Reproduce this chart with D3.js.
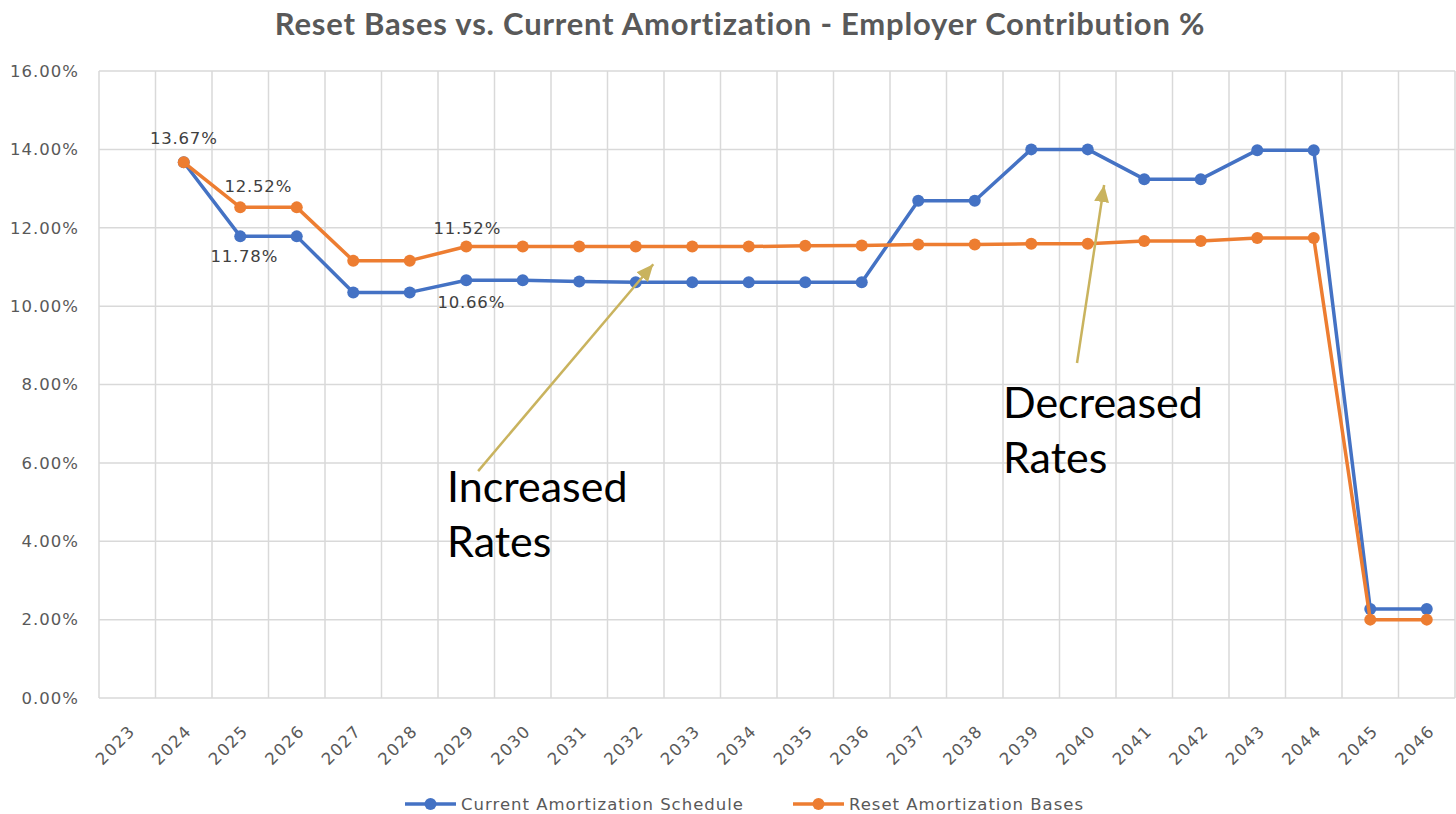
<html>
<head>
<script src="https://d3js.org/d3.v7.min.js"></script>
<style>
  body { margin: 0; background: #fff; }
  svg { display: block; }
</style>
</head>
<body>
<svg id="chart" width="1456" height="814"></svg>
<script>
// chart data
var years = ["2023","2024","2025","2026","2027","2028","2029","2030","2031","2032","2033","2034",
             "2035","2036","2037","2038","2039","2040","2041","2042","2043","2044","2045","2046"];
var currentSchedule = [null, 13.67, 11.78, 11.78, 10.35, 10.35, 10.66, 10.66, 10.63, 10.61, 10.61, 10.61,
                       10.61, 10.61, 12.69, 12.69, 14.00, 14.00, 13.24, 13.24, 13.98, 13.98, 2.27, 2.27];
var resetBases = [null, 13.67, 12.52, 12.52, 11.16, 11.16, 11.52, 11.52, 11.52, 11.52, 11.52, 11.52,
                  11.54, 11.55, 11.57, 11.57, 11.59, 11.59, 11.66, 11.66, 11.74, 11.74, 2.00, 2.00];
var yTicks = [0, 2, 4, 6, 8, 10, 12, 14, 16];
var seriesNames = ["Current Amortization Schedule", "Reset Amortization Bases"];
var seriesColors = ["#4472C4", "#ED7D31"];

// data labels: series index, year, nudge in px
var dataLabels = [
  {s: 1, year: "2024", dx: 0,  dy: -24},
  {s: 1, year: "2025", dx: 18, dy: -21},
  {s: 0, year: "2025", dx: 4,  dy: 20},
  {s: 1, year: "2029", dx: 1,  dy: -18},
  {s: 0, year: "2029", dx: 5,  dy: 22}
];

// annotations placed in data units (fractional year, percent)
var notes = [
  {lines: ["Increased", "Rates"], x: 2028.66, y: 5.0, from: [2029.21, 5.79], to: [2032.31, 11.07]},
  {lines: ["Decreased", "Rates"], x: 2038.5, y: 7.14, from: [2039.81, 8.55], to: [2040.29, 13.09]}
];

var plotL = 99, plotR = 1455, plotT = 71, plotB = 698;
var svg = d3.select("#chart");

var x = d3.scaleBand().domain(years).range([plotL, plotR]);
var xl = d3.scaleLinear().domain([2022.5, 2046.5]).range([plotL, plotR]);
var y = d3.scaleLinear().domain([0, 16]).range([plotB, plotT]);
var cx = function(yr) { return x(yr) + x.bandwidth() / 2; };

// title
svg.append("text")
  .attr("x", 740).attr("y", 35)
  .attr("text-anchor", "middle")
  .style("font-family", "Lato, sans-serif")
  .style("font-weight", "bold")
  .style("font-size", "31px")
  .style("letter-spacing", "0.8px")
  .style("fill", "#595959")
  .text("Reset Bases vs. Current Amortization - Employer Contribution %");

// gridlines
var grid = svg.append("g").attr("stroke", "#D9D9D9").attr("stroke-width", 1.5);
grid.selectAll("line.h").data(yTicks).enter().append("line")
  .attr("class", "h")
  .attr("x1", plotL).attr("x2", plotR)
  .attr("y1", function(d) { return y(d); }).attr("y2", function(d) { return y(d); });
grid.selectAll("line.v").data(years.concat(["end"])).enter().append("line")
  .attr("class", "v")
  .attr("x1", function(d) { return d == "end" ? plotR : x(d); })
  .attr("x2", function(d) { return d == "end" ? plotR : x(d); })
  .attr("y1", plotT).attr("y2", plotB);

// y axis
var yAxis = svg.append("g")
  .attr("transform", "translate(" + plotL + ",0)")
  .call(d3.axisLeft(y).tickValues(yTicks).tickSize(0).tickPadding(20)
        .tickFormat(function(d) { return d.toFixed(2) + "%"; }));
yAxis.select(".domain").remove();
yAxis.selectAll("text")
  .style("font-family", "'DejaVu Sans', sans-serif")
  .style("font-size", "16.5px")
  .style("letter-spacing", "1px")
  .style("fill", "#595959");

// x axis
var xAxis = svg.append("g")
  .attr("transform", "translate(0," + plotB + ")")
  .call(d3.axisBottom(x).tickSize(0));
xAxis.select(".domain").remove();
xAxis.selectAll("text")
  .attr("text-anchor", "end")
  .attr("dy", "0.35em")
  .attr("transform", "translate(5,30) rotate(-45)")
  .attr("y", 0)
  .style("font-family", "'DejaVu Sans', sans-serif")
  .style("font-size", "16.5px")
  .style("letter-spacing", "1.5px")
  .style("fill", "#595959");

// series
var allSeries = [currentSchedule, resetBases];
var line = d3.line()
  .defined(function(d) { return d.v != null; })
  .x(function(d) { return cx(d.year); })
  .y(function(d) { return y(d.v); });

allSeries.forEach(function(vals, s) {
  var pts = years.map(function(yr, i) { return {year: yr, v: vals[i]}; });
  var g = svg.append("g");
  g.append("path").datum(pts)
    .attr("d", line)
    .attr("fill", "none")
    .attr("stroke", seriesColors[s])
    .attr("stroke-width", 3.5)
    .attr("stroke-linejoin", "round");
  g.selectAll("circle").data(pts.filter(function(d) { return d.v != null; })).enter().append("circle")
    .attr("cx", function(d) { return cx(d.year); })
    .attr("cy", function(d) { return y(d.v); })
    .attr("r", 6)
    .attr("fill", seriesColors[s]);
});

// data labels
svg.append("g").selectAll("text").data(dataLabels).enter().append("text")
  .attr("x", function(d) { return cx(d.year) + d.dx; })
  .attr("y", function(d) { return y(allSeries[d.s][years.indexOf(d.year)]) + d.dy; })
  .attr("text-anchor", "middle")
  .attr("dy", "0.35em")
  .style("font-family", "'DejaVu Sans', sans-serif")
  .style("font-size", "16.5px")
  .style("letter-spacing", "0.8px")
  .style("fill", "#404040")
  .text(function(d) { return allSeries[d.s][years.indexOf(d.year)].toFixed(2) + "%"; });

// annotations
svg.append("defs").append("marker")
  .attr("id", "arrow")
  .attr("markerUnits", "userSpaceOnUse")
  .attr("markerWidth", 18).attr("markerHeight", 16)
  .attr("refX", 17).attr("refY", 7.5)
  .attr("orient", "auto")
  .append("path")
  .attr("d", "M0,0 L17,7.5 L0,15 Z")
  .attr("fill", "#C9B35E");

notes.forEach(function(n) {
  svg.append("line")
    .attr("x1", xl(n.from[0])).attr("y1", y(n.from[1]))
    .attr("x2", xl(n.to[0])).attr("y2", y(n.to[1]))
    .attr("stroke", "#C9B35E")
    .attr("stroke-width", 2.5)
    .attr("marker-end", "url(#arrow)");
  var t = svg.append("text")
    .attr("x", xl(n.x)).attr("y", y(n.y))
    .style("font-family", "Lato, sans-serif")
    .style("font-size", "43px")
    .style("fill", "#000");
  n.lines.forEach(function(l, i) {
    t.append("tspan").attr("x", xl(n.x)).attr("dy", i == 0 ? 0 : 55).text(l);
  });
});

// legend
var legendX = [405, 793];
var leg = svg.append("g").selectAll("g").data(seriesNames).enter().append("g")
  .attr("transform", function(d, i) { return "translate(" + legendX[i] + ",804)"; });
leg.append("line")
  .attr("x1", 0).attr("x2", 51)
  .attr("stroke", function(d, i) { return seriesColors[i]; })
  .attr("stroke-width", 3.5);
leg.append("circle")
  .attr("cx", 25.5).attr("r", 6)
  .attr("fill", function(d, i) { return seriesColors[i]; });
leg.append("text")
  .attr("x", 56).attr("dy", "0.35em")
  .style("font-family", "'DejaVu Sans', sans-serif")
  .style("font-size", "16.5px")
  .style("letter-spacing", "1px")
  .style("fill", "#595959")
  .text(function(d) { return d; });
</script>
</body>
</html>
